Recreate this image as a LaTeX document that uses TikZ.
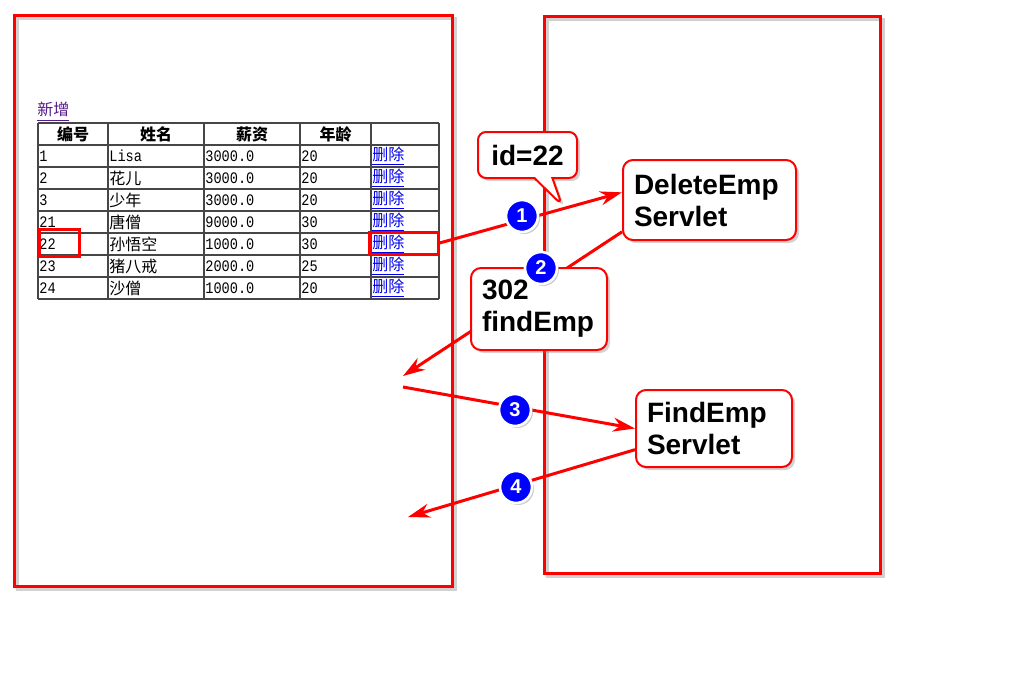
\documentclass[tikz,border=0pt]{standalone}
\usepackage{fontspec}
\setmainfont{Liberation Sans}
\newfontfamily\cjk{Noto Sans CJK SC}
\newfontfamily\mono[FakeStretch=0.85]{Liberation Mono}
\usetikzlibrary{arrows.meta,shapes.callouts,shadows}
\definecolor{linkblue}{RGB}{0,0,238}
\definecolor{visited}{RGB}{85,26,139}
\definecolor{tabgray}{RGB}{70,70,70}
\begin{document}
\begin{tikzpicture}[x=0.5pt, y=-0.5pt,
    frame/.style={draw=red, line width=1.5pt},
    frameshade/.style={draw=black, opacity=0.18, line width=1.5pt},
    grid/.style={draw=tabgray, line width=0.9pt},
    head/.style={inner sep=0pt, font=\cjk\bfseries\fontsize{8}{9}\selectfont},
    cell/.style={anchor=west, inner sep=0pt, font=\mono\fontsize{8}{9}\selectfont},
    link/.style={cell, text=linkblue, font=\cjk\fontsize{8}{9}\selectfont},
    hilite/.style={draw=red, line width=1.5pt, inner sep=0pt},
    box/.style={draw=red, line width=1pt, fill=white, rounded corners=5pt, align=left, inner xsep=5.5pt, font=\bfseries\fontsize{14}{16}\selectfont, drop shadow={opacity=0.35, shadow xshift=1.5pt, shadow yshift=-1.5pt}},
    num/.style={circle, fill=blue, draw=white, line width=1.3pt, minimum size=16pt, inner sep=0pt, text=white, font=\bfseries\fontsize{10}{10}\selectfont, drop shadow={opacity=0.4, shadow xshift=1pt, shadow yshift=-1pt}},
    flow/.style={draw=red, line width=1.5pt, -{Stealth[length=11pt,width=7pt]}}]

\path[fill=white] (0,0) rectangle (1024,677);

\draw[frameshade] (17,18) rectangle (455,589);
\draw[frame] (14,15) rectangle (452,586);
\draw[frameshade] (547,19) rectangle (883,576);
\draw[frame] (544,16) rectangle (880,573);

\node[anchor=south west, inner sep=0pt, text=visited, font=\cjk\fontsize{8}{9}\selectfont] (add) at (37,121.5) {\underline{新增}};

\foreach \y in {123,145,...,299} \draw[grid] (38,\y) -- (439,\y);
\foreach \x in {38,108,204,300,371,439} \draw[grid] (\x,123) -- (\x,299);

\foreach \t/\x [count=\k] in {编号/73,姓名/156,薪资/252,年龄/335.5}
    \node[head] (head\k) at (\x,134) {\t};

\foreach \a/\b/\c/\d [count=\k] in {1/{\mono Lisa}/3000.0/20, 2/花儿/3000.0/20, 3/少年/3000.0/20, 21/唐僧/9000.0/30, 22/孙悟空/1000.0/30, 23/猪八戒/2000.0/25, 24/沙僧/1000.0/20} {
    \pgfmathsetmacro\y{134+22*\k}
    \node[cell] (id\k) at (39,\y) {\a};
    \node[cell, font=\cjk\fontsize{8}{9}\selectfont] (name\k) at (109,\y) {\b};
    \node[cell] (pay\k) at (205,\y) {\c};
    \node[cell] (age\k) at (301,\y) {\d};
    \node[link] (del\k) at (372,\y) {\underline{删除}};
}

\node[hilite, minimum width=20pt, minimum height=13.5pt] (idmark) at (59,242.5) {};
\node[hilite, minimum width=34.5pt, minimum height=11pt] (delmark) at (403.5,243) {};

\node[box, text width=75.5pt, minimum height=40pt] (delete) at (709.5,200) {DeleteEmp\\Servlet};
\node[box, text width=67pt, minimum height=38.5pt] (find) at (714,428.5) {FindEmp\\Servlet};

\coordinate (redirect) at (403,376);
\coordinate (request) at (403,387);
\coordinate (result) at (408,517);

\draw[flow] (delmark.east) -- (delete.175);
\draw[flow] (delete.200) -- (redirect);
\draw[flow] (request) -- (find.west);
\draw[flow] (find.195) -- (result);

\node[box, rectangle callout, rounded corners=4pt, callout absolute pointer={(562,205)}, callout pointer width=9pt, minimum width=49.5pt, minimum height=23pt] (param) at (527.5,155) {id=22};
\node[box, text width=57pt, minimum height=41pt] (status) at (539,309) {302\\findEmp};

\node[num] (n1) at (522,216) {1};
\node[num] (n2) at (541,268) {2};
\node[num] (n3) at (515,410) {3};
\node[num] (n4) at (516,487) {4};

\end{tikzpicture}
\end{document}
